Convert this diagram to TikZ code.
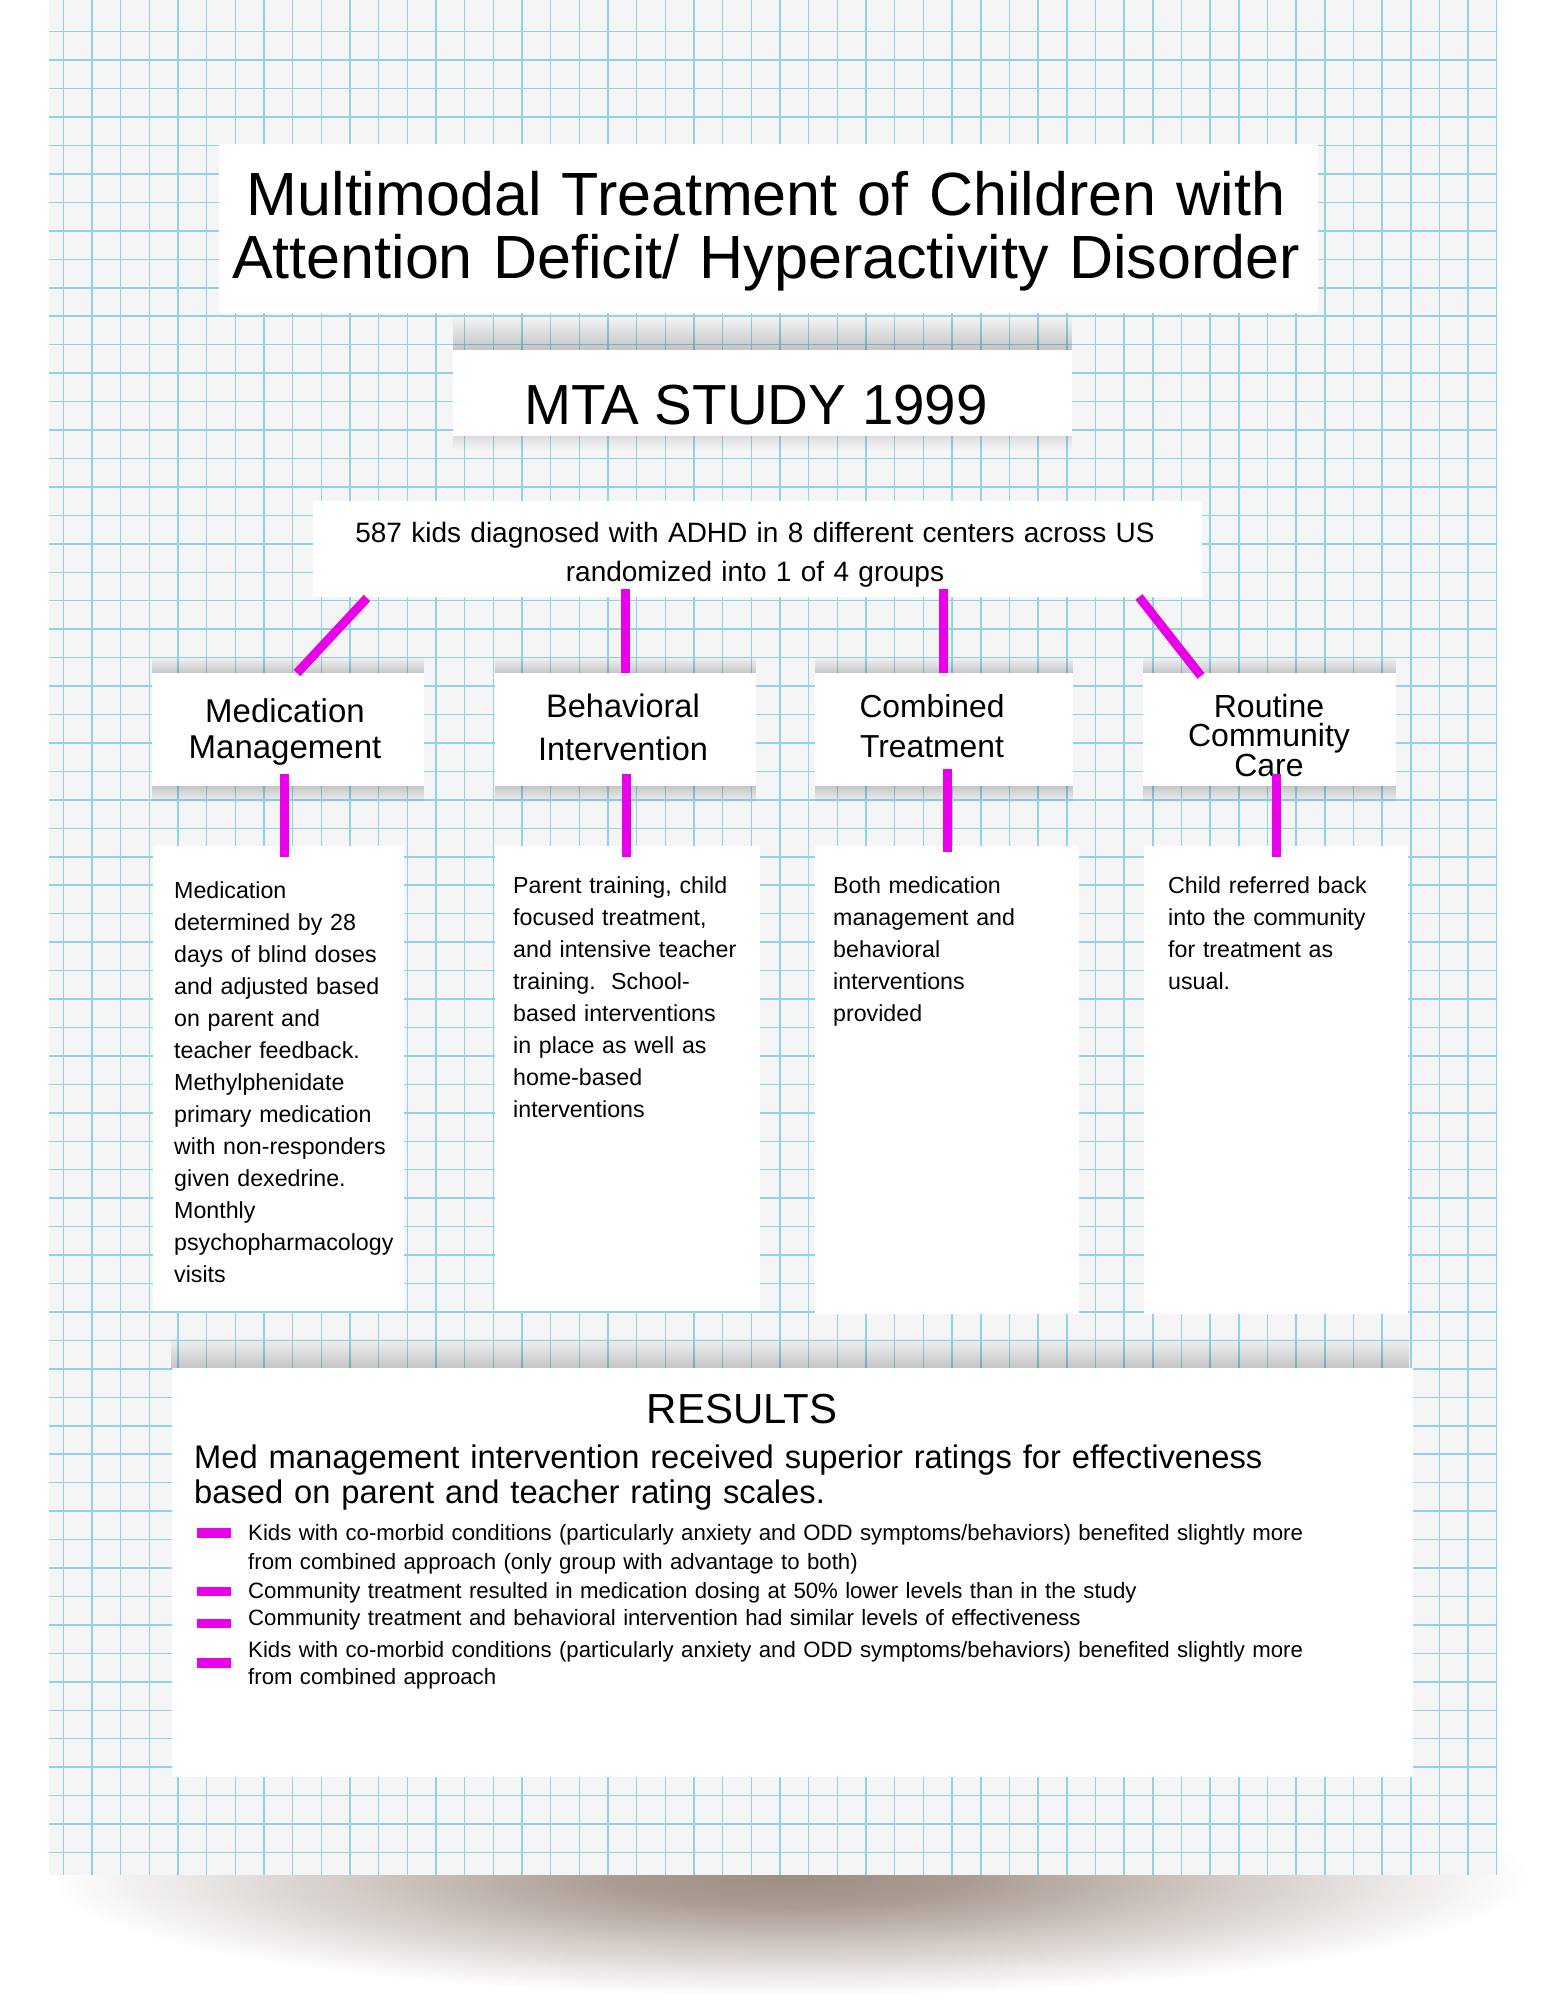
\documentclass[tikz,border=0pt]{standalone}
\usepackage{fontspec}
\setmainfont{Liberation Sans}
\usetikzlibrary{calc,fadings}
\definecolor{gridblue}{RGB}{145,210,231}
\definecolor{paper}{RGB}{245,245,245}
\definecolor{mag}{RGB}{232,0,232}
\definecolor{shc}{RGB}{158,142,132}
\pgfdeclareradialshading{papershadow}{\pgfpoint{0bp}{0bp}}{color(0bp)=(shc); color(6bp)=(shc!88!white); color(15bp)=(shc!45!white); color(25bp)=(white); color(50bp)=(white)}
\lineskiplimit=-1000pt
\tikzset{
 box/.style={fill=white, draw=none, anchor=north west, inner sep=0pt, outer sep=0pt},
 conn/.style={draw=mag, line width=9pt, line cap=butt},
 ltxt/.style={anchor=base west, inner sep=0pt, align=left, text width=#1},
 ctxt/.style={anchor=base, inner sep=0pt, align=center, text width=#1},
 shadowN/.style={fill=black, opacity=0.2, path fading=north},
 shadowS/.style={fill=black, opacity=0.2, path fading=south},
 bulletbar/.style={fill=mag},
}
\begin{document}
\begin{tikzpicture}[x=1pt,y=-1pt]
\useasboundingbox (0,0) rectangle (1545,2000);
% shadow under the paper
\shade[shading=papershadow] (790,1878) ellipse [x radius=740pt, y radius=118pt];
% paper
\fill[paper] (49,0) rectangle (1497,1875);
\begin{scope}
\clip (49,0) rectangle (1497,1875);
\foreach \i in {0,...,50} \draw[gridblue, line width=1.5pt] ({63.3+28.67*\i},0) -- ({63.3+28.67*\i},1875);
\foreach \j in {0,...,65} \draw[gridblue, line width=1.5pt] (49,{31.7+28.45*\j}) -- (1497,{31.7+28.45*\j});
\end{scope}
% shadows of the strips
\fill[shadowN] (453,316) rectangle (1072,351);
\fill[shadowS, opacity=0.1] (453,435) rectangle (1072,450);
\foreach \a/\b in {152/424,495/756,815/1073,1143/1396}{
  \fill[shadowN] (\a,656) rectangle (\b,674);
  \fill[shadowS] (\a,785) rectangle (\b,803);
}
\fill[shadowN] (172,1336) rectangle (1413,1369);
% boxes
\node[box, minimum width=1099pt, minimum height=169pt] (title) at (219,144) {};
\node[box, minimum width=619pt, minimum height=86pt] (mta) at (453,350) {};
\node[box, minimum width=889pt, minimum height=96pt] (kids) at (313,501) {};
\node[box, minimum width=272pt, minimum height=113pt] (med) at (152,673) {};
\node[box, minimum width=261pt, minimum height=113pt] (beh) at (495,673) {};
\node[box, minimum width=258pt, minimum height=113pt] (comb) at (815,673) {};
\node[box, minimum width=253pt, minimum height=113pt] (rout) at (1143,673) {};
\node[box, minimum width=251pt, minimum height=465pt] (medd) at (153,846) {};
\node[box, minimum width=265pt, minimum height=465pt] (behd) at (495,846) {};
\node[box, minimum width=264pt, minimum height=468pt] (combd) at (815,846) {};
\node[box, minimum width=264pt, minimum height=468pt] (routd) at (1144,846) {};
\node[box, minimum width=1241pt, minimum height=409pt] (results) at (172,1368) {};
% texts
\node[ctxt=1200pt, font=\fontsize{61}{63}\selectfont] (ttitle) at (766,215) {Multimodal Treatment of Children with\\Attention Deficit/ Hyperactivity Disorder};
\node[anchor=base, inner sep=0pt, font=\fontsize{56.5}{60}\selectfont] (tmta) at (756,424) {MTA STUDY 1999};
\node[ctxt=880pt, font=\fontsize{28}{39}\selectfont] (tkids) at (755,542) {587 kids diagnosed with ADHD in 8 different centers across US\\randomized into 1 of 4 groups};
\node[ctxt=260pt, font=\fontsize{33}{36}\selectfont] (tmed) at (285,722) {Medication\\Management};
\node[ctxt=250pt, font=\fontsize{32.5}{43}\selectfont] (tbeh) at (623,717) {Behavioral\\Intervention};
\node[ctxt=250pt, font=\fontsize{31.8}{40}\selectfont] (tcomb) at (932,717) {Combined\\Treatment};
\node[ctxt=240pt, font=\fontsize{32}{29.5}\selectfont] (trout) at (1269,717) {Routine\\Community\\Care};
\node[ltxt=240pt, font=\fontsize{23.2}{32}\selectfont] (tmedd) at (174,898) {Medication\\determined by 28\\days of blind doses\\and adjusted based\\on parent and\\teacher feedback.\\Methylphenidate\\primary medication\\with non-responders\\given dexedrine.\\Monthly\\psychopharmacology\\visits};
\node[ltxt=240pt, font=\fontsize{23.2}{32}\selectfont] (tbehd) at (513,893) {Parent training, child\\focused treatment,\\and intensive teacher\\training.\ \ School-\\based interventions\\in place as well as\\home-based\\interventions};
\node[ltxt=240pt, font=\fontsize{23.2}{32}\selectfont] (tcombd) at (833,893) {Both medication\\management and\\behavioral\\interventions\\provided};
\node[ltxt=235pt, font=\fontsize{23.2}{32}\selectfont] (troutd) at (1168,893) {Child referred back\\into the community\\for treatment as\\usual.};
\node[anchor=base, inner sep=0pt, font=\fontsize{42}{46}\selectfont] (tres) at (742,1423) {RESULTS};
\node[ltxt=1150pt, font=\fontsize{32.7}{35}\selectfont] (tmain) at (194,1468) {Med management intervention received superior ratings for effectiveness\\based on parent and teacher rating scales.};
\node[ltxt=1120pt, font=\fontsize{22.2}{29}\selectfont] (b1) at (248,1540) {Kids with co-morbid conditions (particularly anxiety and ODD symptoms/behaviors) benefited slightly more\\from combined approach (only group with advantage to both)};
\node[ltxt=1120pt, font=\fontsize{22.2}{29}\selectfont] (b2) at (248,1598) {Community treatment resulted in medication dosing at 50\% lower levels than in the study};
\node[ltxt=1120pt, font=\fontsize{22.2}{29}\selectfont] (b3) at (248,1625) {Community treatment and behavioral intervention had similar levels of effectiveness};
\node[ltxt=1120pt, font=\fontsize{22.2}{27}\selectfont] (b4) at (248,1657) {Kids with co-morbid conditions (particularly anxiety and ODD symptoms/behaviors) benefited slightly more\\from combined approach};
% bullet bars
\fill[bulletbar] (197,1528) rectangle (231,1538);
\fill[bulletbar] (197,1587) rectangle (231,1596);
\fill[bulletbar] (197,1619) rectangle (231,1628);
\fill[bulletbar] (197,1658) rectangle (231,1668);
% connectors
\draw[conn] ($(kids.south west)+(54,1)$) -- ($(med.north west)+(145,0)$);
\draw[conn] ($(kids.south west)+(312.5,-8)$) -- ($(beh.north west)+(130.5,0)$);
\draw[conn] ($(kids.south west)+(630.5,-8)$) -- ($(comb.north west)+(128.5,0)$);
\draw[conn] ($(kids.south west)+(826,0)$) -- ($(rout.north west)+(58,3)$);
\draw[conn] ($(med.south west)+(132.5,-12)$) -- ($(medd.north west)+(131.5,11)$);
\draw[conn] ($(beh.south west)+(131.5,-12)$) -- ($(behd.north west)+(131.5,11)$);
\draw[conn] ($(comb.south west)+(132,-17)$) -- ($(combd.north west)+(132,6)$);
\draw[conn] ($(rout.south west)+(133,-12)$) -- ($(routd.north west)+(132,11)$);
\end{tikzpicture}
\end{document}
